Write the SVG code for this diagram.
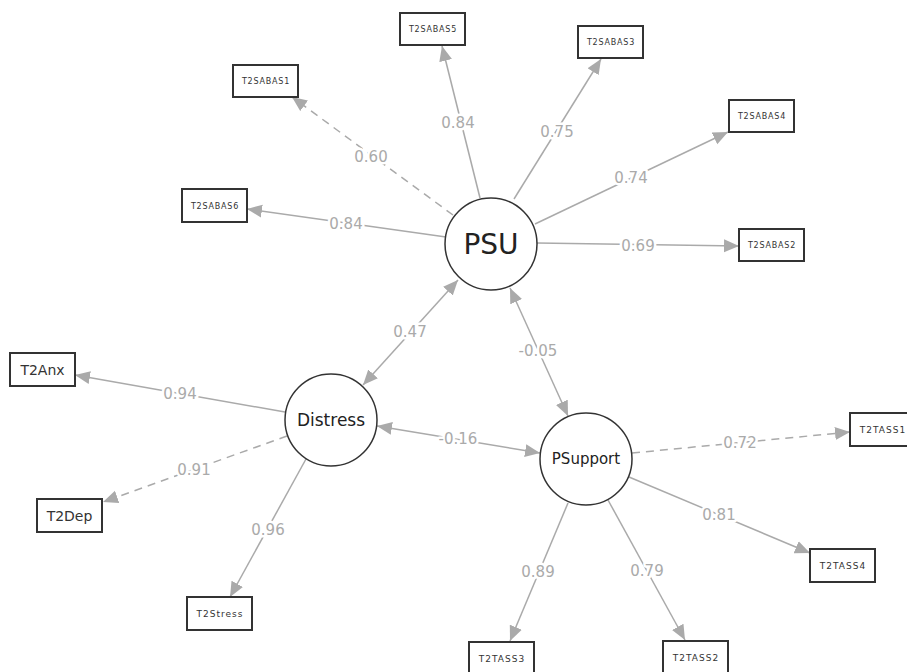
<svg xmlns="http://www.w3.org/2000/svg" width="907" height="672" viewBox="0 0 907 672">
<style>
.bg{fill:#fff}
.box{fill:#fff;stroke:#333;stroke-width:2}
.lat{fill:#fff;stroke:#333;stroke-width:1.5}
.bt{font-family:"DejaVu Sans",sans-serif;font-size:8px;letter-spacing:0.8px;fill:#333;text-anchor:middle}
.bt9{font-family:"DejaVu Sans",sans-serif;font-size:9px;letter-spacing:1px;fill:#333;text-anchor:middle}
.bt14{font-family:"DejaVu Sans",sans-serif;font-size:14px;fill:#333;text-anchor:middle}
.lt{font-family:"DejaVu Sans",sans-serif;fill:#222;text-anchor:middle}
.e{stroke:#aaa;stroke-width:1.5;fill:none;marker-end:url(#ah)}
.d{stroke-dasharray:8,6}
.bi{marker-start:url(#ah)}
.el{font-family:"DejaVu Sans",sans-serif;font-size:15px;fill:#aaa;text-anchor:middle;stroke:#fff;stroke-width:5;paint-order:stroke;stroke-linejoin:round}
</style>
<defs>
<marker id="ah" markerUnits="userSpaceOnUse" markerWidth="16" markerHeight="14" refX="15" refY="6.5" orient="auto-start-reverse" viewBox="0 0 16 13">
<path d="M0,0 L15,6.5 L0,13 z" fill="#aaa"/>
</marker>
</defs>
<rect class="bg" x="0" y="0" width="907" height="672"/>
<g id="connectors">
<line class="e" x1="480" y1="198" x2="442" y2="46"/>
<line class="e d" x1="453" y1="215" x2="292" y2="97"/>
<line class="e" x1="446" y1="237" x2="247" y2="209"/>
<line class="e" x1="514" y1="199" x2="601" y2="59"/>
<line class="e" x1="535" y1="224" x2="728" y2="132"/>
<line class="e" x1="537" y1="243" x2="739" y2="246"/>
<line class="e" x1="285" y1="412" x2="75" y2="375"/>
<line class="e d" x1="287" y1="436" x2="103" y2="502"/>
<line class="e" x1="306" y1="459" x2="230" y2="597"/>
<line class="e bi" x1="363" y1="385" x2="458" y2="280"/>
<line class="e bi" x1="510" y1="288" x2="568" y2="416"/>
<line class="e bi" x1="377" y1="426" x2="540" y2="453"/>
<line class="e d" x1="632" y1="453" x2="850" y2="432"/>
<line class="e" x1="629" y1="477" x2="810" y2="553"/>
<line class="e" x1="568" y1="503" x2="510" y2="641"/>
<line class="e" x1="608" y1="500" x2="685" y2="640"/>
<text class="el" x="458" y="128">0.84</text>
<text class="el" x="371" y="162">0.60</text>
<text class="el" x="346" y="229">0.84</text>
<text class="el" x="557" y="137">0.75</text>
<text class="el" x="631" y="183">0.74</text>
<text class="el" x="638" y="251">0.69</text>
<text class="el" x="180" y="399">0.94</text>
<text class="el" x="194" y="475">0.91</text>
<text class="el" x="268" y="535">0.96</text>
<text class="el" x="410" y="337">0.47</text>
<text class="el" x="538" y="356">-0.05</text>
<text class="el" x="458" y="444">-0.16</text>
<text class="el" x="740" y="448">0.72</text>
<text class="el" x="719" y="520">0.81</text>
<text class="el" x="538" y="577">0.89</text>
<text class="el" x="647" y="576">0.79</text>
</g>
<g id="PSU"><circle class="lat" cx="491" cy="244" r="46"/><text class="lt" x="491" y="254" font-size="28">PSU</text></g>
<g id="Distress"><circle class="lat" cx="331" cy="420" r="46"/><text class="lt" x="331" y="426" font-size="17">Distress</text></g>
<g id="PSupport"><circle class="lat" cx="586" cy="459" r="46"/><text class="lt" x="586" y="464" font-size="15">PSupport</text></g>
<g id="T2SABAS5"><rect class="box" x="400" y="13" width="65" height="32"/><text class="bt" x="433" y="32">T2SABAS5</text></g>
<g id="T2SABAS1"><rect class="box" x="233" y="65" width="65" height="32"/><text class="bt" x="266" y="84">T2SABAS1</text></g>
<g id="T2SABAS6"><rect class="box" x="182" y="189" width="65" height="33"/><text class="bt" x="215" y="209">T2SABAS6</text></g>
<g id="T2SABAS3"><rect class="box" x="578" y="26" width="65" height="32"/><text class="bt" x="611" y="45">T2SABAS3</text></g>
<g id="T2SABAS4"><rect class="box" x="729" y="100" width="65" height="32"/><text class="bt" x="762" y="119">T2SABAS4</text></g>
<g id="T2SABAS2"><rect class="box" x="739" y="229" width="65" height="32"/><text class="bt" x="772" y="248">T2SABAS2</text></g>
<g id="T2Anx"><rect class="box" x="10" y="353" width="65" height="33"/><text class="bt14" x="42.5" y="375">T2Anx</text></g>
<g id="T2Dep"><rect class="box" x="37" y="499" width="65" height="33"/><text class="bt14" x="69.5" y="521">T2Dep</text></g>
<g id="T2Stress"><rect class="box" x="187" y="597" width="65" height="33"/><text class="bt9" x="220" y="617">T2Stress</text></g>
<g id="T2TASS1"><rect class="box" x="850" y="413" width="65" height="33"/><text class="bt9" x="883" y="433">T2TASS1</text></g>
<g id="T2TASS4"><rect class="box" x="810" y="549" width="65" height="33"/><text class="bt9" x="843" y="569">T2TASS4</text></g>
<g id="T2TASS3"><rect class="box" x="469" y="642" width="65" height="33"/><text class="bt9" x="502" y="662">T2TASS3</text></g>
<g id="T2TASS2"><rect class="box" x="663" y="641" width="65" height="33"/><text class="bt9" x="696" y="661">T2TASS2</text></g>
</svg>
